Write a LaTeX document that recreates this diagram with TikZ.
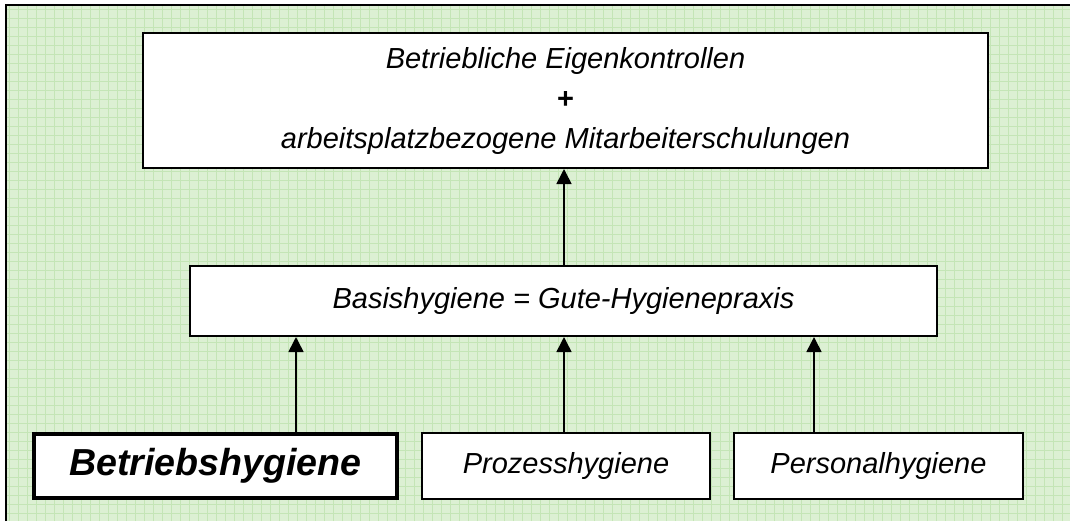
\documentclass[tikz,border=0pt]{standalone}
\usepackage{fontspec}
\setmainfont{Liberation Sans}
\usepackage{tikz}
\usetikzlibrary{arrows.meta}
\definecolor{paper}{RGB}{220,240,211}
\definecolor{paperline}{RGB}{196,229,182}
\tikzset{box/.style = {draw, fill=white, line width=1pt, inner sep=0pt,
                       font=\itshape\fontsize{14.5}{20}\selectfont, align=center}}
\tikzset{arr/.style = {line width=0.8pt, -{Triangle[width=7.5pt,length=7.5pt]}}}

\begin{document}
\begin{tikzpicture}[x=0.5pt,y=-0.5pt]
	\useasboundingbox (0,0) rectangle (1070,521);
	% background
	\fill [paper] (6,5) rectangle (1070,521);
	\draw [paperline, line width=0.5pt, step=4.5pt] (6,5) grid (1070,521);
	\draw [line width=1pt] (6,521) -- (6,5) -- (1070,5);
	% boxes
	\node [box, minimum width=422.5pt, minimum height=67.5pt] (kontrollen) at (565.5,100.5)
		{Betriebliche Eigenkontrollen\\ \textbf{\upshape +}\\ arbeitsplatzbezogene Mitarbeiterschulungen};
	\node [box, minimum width=373.5pt, minimum height=35pt] (basis) at (563.5,301)
		{Basishygiene = Gute-Hygienepraxis};
	\node [box, line width=2pt, minimum width=181.5pt, minimum height=32pt,
		font=\bfseries\itshape\fontsize{18.8}{22}\selectfont] (betrieb) at (215.5,466) {Betriebshygiene};
	\node [box, minimum width=144pt, minimum height=33pt] (prozess) at (566,466) {Prozesshygiene};
	\node [box, minimum width=144.5pt, minimum height=33pt] (personal) at (878.5,466) {Personalhygiene};
	% arrows
	\draw [arr] (betrieb.north -| 296,0) -- (basis.south -| 296,0);
	\draw [arr] (prozess.north -| 564,0) -- (basis.south -| 564,0);
	\draw [arr] (personal.north -| 814,0) -- (basis.south -| 814,0);
	\draw [arr] (basis.north -| 564,0) -- (kontrollen.south -| 564,0);
\end{tikzpicture}
\end{document}
